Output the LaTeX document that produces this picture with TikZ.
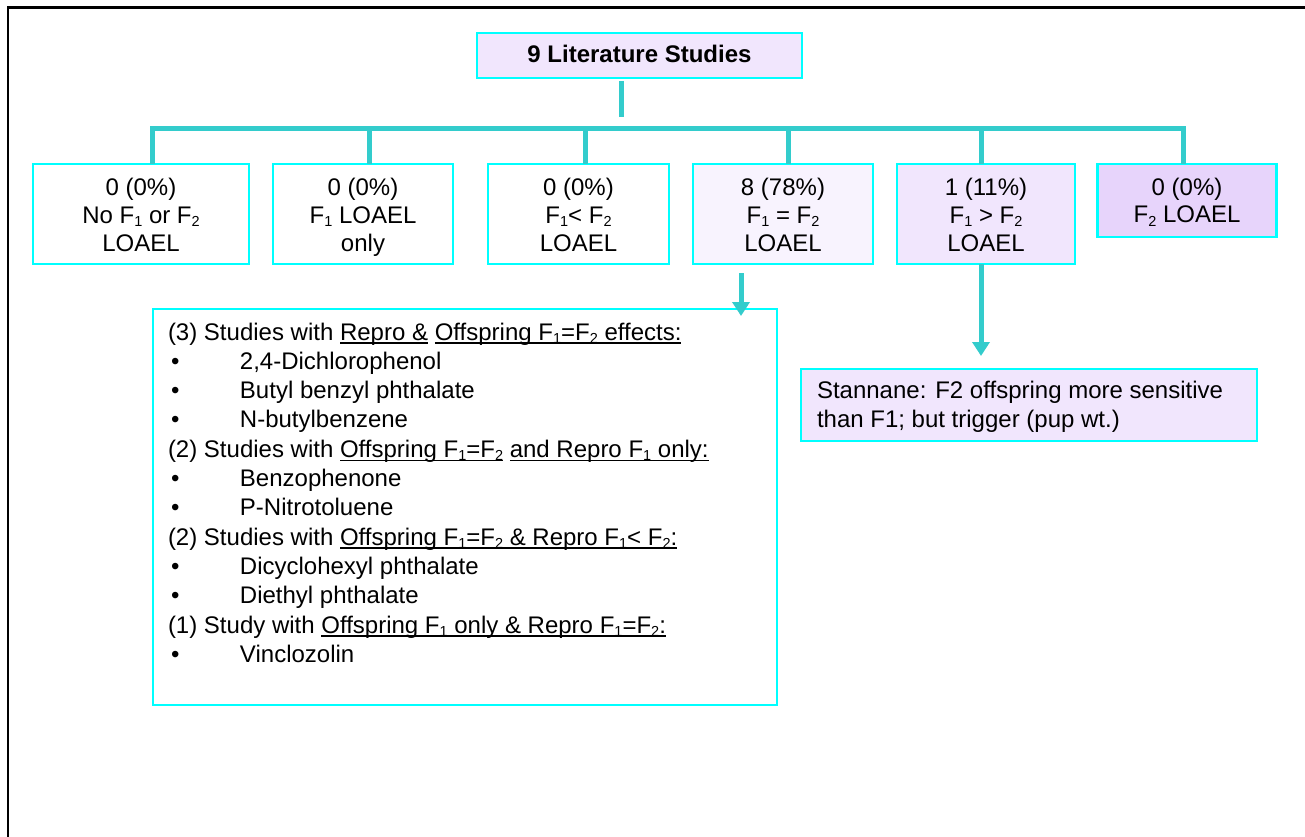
\documentclass[tikz,border=0pt]{standalone}
\usepackage{fontspec}
\setmainfont{Liberation Sans}
\usetikzlibrary{arrows.meta}
\definecolor{cyanb}{RGB}{0,255,255}
\definecolor{conncol}{RGB}{51,204,204}
\definecolor{lavA}{RGB}{241,230,253}
\definecolor{lavB}{RGB}{248,243,254}
\definecolor{lavC}{RGB}{231,212,251}
\newcommand\sbs[1]{\raisebox{-3pt}{\fontsize{14.5}{14.5}\selectfont #1}}
\newcommand\ulx[1]{\setbox0=\hbox{#1}\rlap{\rule[-3.8pt]{\wd0}{1.5pt}}\box0\relax}
\newcommand\bxt[3]{\parbox[c][#2][t]{#1}{\centering\fontsize{24}{28}\selectfont\rule{0pt}{31pt}#3}}
\newcommand\bl[1]{\makebox[72pt][l]{\hspace*{3pt}\textbullet}#1}
\begin{document}
\begin{tikzpicture}[x=1pt,y=-1pt,
  bx/.style={draw=cyanb, line width=2.6pt, inner sep=0pt, outer sep=0pt},
  cn/.style={draw=conncol, line width=5pt},
  ar/.style={cn, -{Triangle[width=17pt,length=14pt]}}]
\clip (0,0) rectangle (1305,837);
% outer frame (only top and left edges visible)
\draw[line width=2.6pt] (8,845) -- (8,7.5) -- (1315,7.5);

% title
\node[bx, fill=lavA] (top) at (639.5,55.5)
  {\parbox[c][45pt][t]{325pt}{\centering\fontsize{24}{28}\selectfont\rule{0pt}{30pt}\textbf{9 Literature Studies}}};

% category boxes
\node[bx, fill=white] (b1) at (141,214) {\bxt{216pt}{100pt}{0 (0\%)\\No F\sbs{1} or F\sbs{2}\\LOAEL}};
\node[bx, fill=white] (b2) at (363,214) {\bxt{180pt}{100pt}{0 (0\%)\\F\sbs{1} LOAEL\\only}};
\node[bx, fill=white] (b3) at (578.5,214) {\bxt{181pt}{100pt}{0 (0\%)\\F\sbs{1}< F\sbs{2}\\LOAEL}};
\node[bx, fill=lavB] (b4) at (783,214) {\bxt{180pt}{100pt}{8 (78\%)\\F\sbs{1} = F\sbs{2}\\LOAEL}};
\node[bx, fill=lavA] (b5) at (986,214) {\bxt{178pt}{100pt}{1 (11\%)\\F\sbs{1} > F\sbs{2}\\LOAEL}};
\node[bx, fill=lavC] (b6) at (1187,200.5) {\bxt{179pt}{73pt}{0 (0\%)\\F\sbs{2} LOAEL}};

% list box
\node[bx, fill=white] (list) at (465,507)
  {\parbox[c][396pt][t]{624pt}{\raggedright\leftskip=15pt\fontsize{24}{29.3}\selectfont\rule{0pt}{31pt}%
  (3) Studies with \ulx{Repro \&} \ulx{Offspring F\sbs{1}=F\sbs{2} effects:}\\
  \bl{2,4-Dichlorophenol}\\
  \bl{Butyl benzyl phthalate}\\
  \bl{N-butylbenzene}\\
  (2) Studies with \ulx{Offspring F\sbs{1}=F\sbs{2}} \ulx{and Repro F\sbs{1} only:}\\
  \bl{Benzophenone}\\
  \bl{P-Nitrotoluene}\\
  (2) Studies with \ulx{Offspring F\sbs{1}=F\sbs{2} \& Repro F\sbs{1}< F\sbs{2}:}\\
  \bl{Dicyclohexyl phthalate}\\
  \bl{Diethyl phthalate}\\
  (1) Study with \ulx{Offspring F\sbs{1} only \& Repro F\sbs{1}=F\sbs{2}:}\\
  \bl{Vinclozolin}}};

% stannane box
\node[bx, fill=lavA] (stan) at (1029,405)
  {\parbox[c][72pt][t]{456pt}{\raggedright\leftskip=16pt\fontsize{24}{29}\selectfont\rule{0pt}{29pt}%
  Stannane: F2 offspring more sensitive\\than F1; but trigger (pup wt.)}};

% tree connectors
\coordinate (stemtop) at (621,81);
\coordinate (stembot) at (621,117);
\coordinate (bar) at (621,129);
\draw[cn] (stemtop) -- (stembot);
\draw[cn] ([xshift=11pt]b1.north) |- (bar) -| ([xshift=-4pt]b6.north);
\draw[cn] ([xshift=6pt]b2.north) -- ([xshift=6pt]b2.north |- bar);
\draw[cn] ([xshift=6.5pt]b3.north) -- ([xshift=6.5pt]b3.north |- bar);
\draw[cn] ([xshift=5pt]b4.north) -- ([xshift=5pt]b4.north |- bar);
\draw[cn] ([xshift=-5pt]b5.north) -- ([xshift=-5pt]b5.north |- bar);

% arrows
\draw[ar, shorten >=2pt] ([xshift=-42pt,yshift=-9pt]b4.south) -- ([xshift=-42pt,yshift=-9pt]b4.south |- list.north);
\draw[ar, shorten >=13pt] ([xshift=-5pt]b5.south) -- ([xshift=-5pt]b5.south |- stan.north);
\end{tikzpicture}
\end{document}
